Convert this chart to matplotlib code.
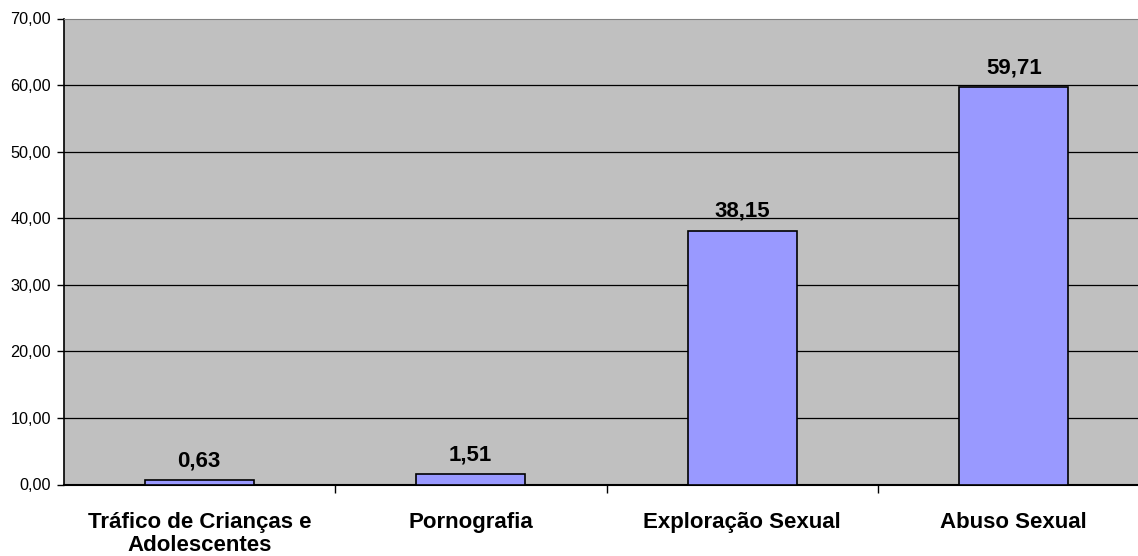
import matplotlib.pyplot as plt

# dados do grafico
categorias = ["Tráfico de Crianças e\nAdolescentes", "Pornografia",
              "Exploração Sexual", "Abuso Sexual"]
valores = [0.63, 1.51, 38.15, 59.71]
rotulos = ["0,63", "1,51", "38,15", "59,71"]
yticks = [0, 10, 20, 30, 40, 50, 60, 70]

plt.rcParams['font.family'] = ['Liberation Sans', 'DejaVu Sans']

fig = plt.figure(figsize=(11.38, 5.56), dpi=100)
ax = fig.add_axes([63.5 / 1138, 71.5 / 556, (1138 - 63.5) / 1138, (485 - 19) / 556])
ax.set_facecolor('#C0C0C0')

x = list(range(len(valores)))
ax.bar(x, valores, width=0.4, color='#9999FF', edgecolor='black', linewidth=1.2, zorder=3)

# linhas de grade horizontais
for v in yticks[1:-1]:
    ax.axhline(v, color='black', linewidth=0.9, zorder=1)

for xi, v, r in zip(x, valores, rotulos):
    ax.text(xi, v + 1.3, r, ha='center', va='bottom', fontsize=16, fontweight='bold')

ax.set_ylim(0, 70)
ax.set_xlim(-0.5, 3.5 - (1149.5 - 1138) / 271.5)
ax.set_yticks(yticks)
ax.set_yticklabels(["%d,00" % v for v in yticks], fontsize=11.7)

ax.set_xticks([0.5, 1.5, 2.5], minor=False)
ax.set_xticklabels([])
ax.tick_params(axis='x', length=6, width=1, color='black', direction='out')
ax.tick_params(axis='y', length=5, width=1, direction='out', pad=4)

for xi, c in zip(x, categorias):
    ax.text(xi, -4.2, c, ha='center', va='top', fontsize=16, fontweight='bold',
            linespacing=1.1, transform=ax.transData, clip_on=False)

ax.spines['top'].set_color('#808080')
ax.spines['right'].set_visible(False)
ax.spines['left'].set_linewidth(1.2)
ax.spines['bottom'].set_linewidth(1.5)

fig.savefig('out.png', dpi=100)
